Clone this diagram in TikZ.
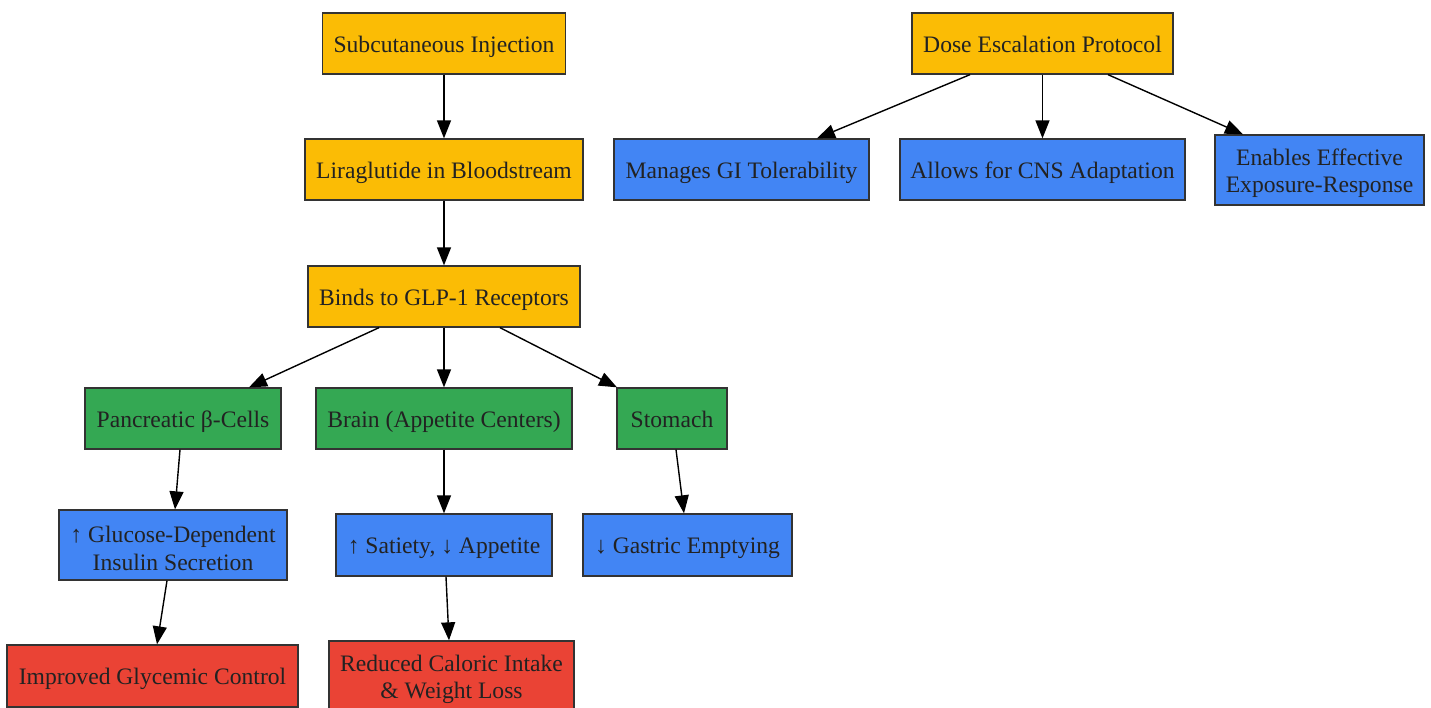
\documentclass[tikz,border=0pt]{standalone}
\usepackage{fontspec}
\setmainfont{Liberation Serif}
\usetikzlibrary{arrows.meta,calc}
\definecolor{cyellow}{HTML}{FBBC05}
\definecolor{cblue}{HTML}{4285F4}
\definecolor{cgreen}{HTML}{34A853}
\definecolor{cred}{HTML}{EA4335}
\definecolor{ctext}{HTML}{222222}
\definecolor{cborder}{HTML}{333333}
\newcommand{\upstrut}{\rule{0pt}{23pt}}
\begin{document}
\begin{tikzpicture}[x=1pt,y=-1pt,
  box/.style={draw=cborder,line width=1.3pt,rectangle,inner sep=0pt,
    text=ctext,font=\fontsize{23.6}{27.5}\selectfont,align=center},
  one/.style={text height=22pt,text depth=4.4pt},
  ybox/.style={box,fill=cyellow},
  bbox/.style={box,fill=cblue},
  gbox/.style={box,fill=cgreen},
  rbox/.style={box,fill=cred},
  edge/.style={draw=black,line width=1.4pt,-{Triangle[length=18pt,width=14pt]}}]
\useasboundingbox (0,0) rectangle (1431,708);
% nodes
\node[ybox,one,minimum width=243pt,minimum height=61pt] (sub) at (444,43.5) {Subcutaneous Injection};
\node[ybox,one,minimum width=278pt,minimum height=61pt] (lira) at (444,169.5) {Liraglutide in Bloodstream};
\node[ybox,one,minimum width=272pt,minimum height=61pt] (binds) at (444,296.5) {Binds to GLP-1 Receptors};
\node[gbox,one,minimum width=196pt,minimum height=61pt] (panc) at (183,418.5) {Pancreatic β-Cells};
\node[gbox,one,minimum width=256pt,minimum height=61pt] (brain) at (444,418.5) {Brain (Appetite Centers)};
\node[gbox,one,minimum width=110pt,minimum height=61pt] (stom) at (672,418.5) {Stomach};
\node[bbox,minimum width=228pt,minimum height=70pt] (gluc) at (173,545) {\upstrut↑ Glucose-Dependent\\Insulin Secretion};
\node[bbox,one,minimum width=216pt,minimum height=62pt] (sat) at (444,545) {↑ Satiety, ↓ Appetite};
\node[bbox,one,minimum width=209pt,minimum height=62pt] (gast) at (687.5,545) {↓ Gastric Emptying};
\node[rbox,one,minimum width=291pt,minimum height=62pt] (impr) at (152.5,676) {Improved Glycemic Control};
\node[rbox,minimum width=245pt,minimum height=70pt] (red) at (451.5,676) {\upstrut Reduced Caloric Intake\\\& Weight Loss};
\node[ybox,one,minimum width=261pt,minimum height=61pt] (dose) at (1042.5,43.5) {Dose Escalation Protocol};
\node[bbox,one,minimum width=255pt,minimum height=61pt] (gi) at (741.5,169.5) {Manages GI Tolerability};
\node[bbox,one,minimum width=285pt,minimum height=61pt] (cns) at (1042.5,169.5) {Allows for CNS Adaptation};
\node[bbox,minimum width=209pt,minimum height=70pt] (expo) at (1319.5,170) {\upstrut Enables Effective\\Exposure-Response};
% edges
\draw[edge] (sub.south) -- (lira.north);
\draw[edge] (lira.south) -- (binds.north);
\draw[edge] ([xshift=-65pt]binds.south) -- ([xshift=66pt]panc.north);
\draw[edge] (binds.south) -- (brain.north);
\draw[edge] ([xshift=56pt]binds.south) -- ([xshift=-55pt]stom.north);
\draw[edge] ([xshift=-3pt]panc.south) -- ([xshift=2pt]gluc.north);
\draw[edge] ([xshift=-6pt]gluc.south) -- ([xshift=4.5pt]impr.north);
\draw[edge] (brain.south) -- (sat.north);
\draw[edge] ([xshift=2pt]sat.south) -- ([xshift=-2.5pt]red.north);
\draw[edge] ([xshift=4pt]stom.south) -- ([xshift=-3.5pt]gast.north);
\draw[edge] ([xshift=-72.5pt]dose.south) -- ([xshift=75.5pt]gi.north);
\draw[edge] (dose.south) -- (cns.north);
\draw[edge] ([xshift=65.5pt]dose.south) -- ([xshift=-76.5pt]expo.north);
\end{tikzpicture}
\end{document}
